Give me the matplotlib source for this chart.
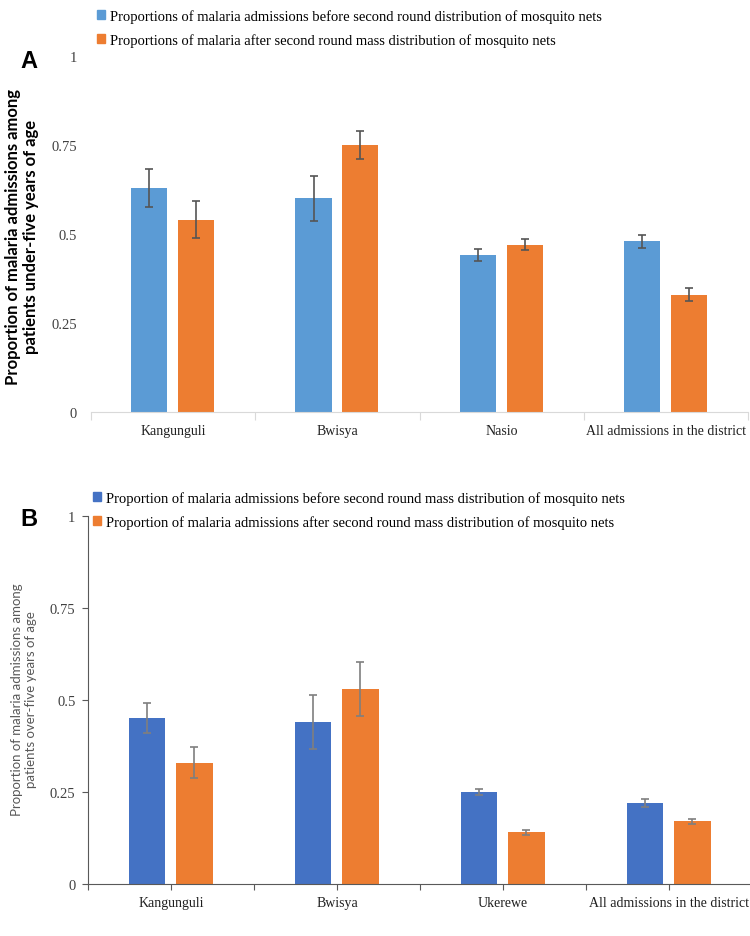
import numpy as np
import matplotlib
matplotlib.use("Agg")
import matplotlib.pyplot as plt
from matplotlib.patches import Patch

# Panel A data (under-five)
sites_a = ["Kangunguli", "Bwisya", "Nasio", "All admissions in the district"]
before_a = [0.63, 0.60, 0.44, 0.48]
before_a_err = [0.053, 0.064, 0.017, 0.018]
after_a = [0.54, 0.75, 0.47, 0.33]
after_a_err = [0.052, 0.038, 0.016, 0.017]
legend_a = [
    "Proportions of malaria admissions before second round distribution of mosquito nets",
    "Proportions of malaria after second round mass distribution of mosquito nets",
]
ylabel_a = "Proportion of malaria admissions among\npatients under-five years of age"

# Panel B data (over-five)
sites_b = ["Kangunguli", "Bwisya", "Ukerewe", "All admissions in the district"]
before_b = [0.45, 0.44, 0.25, 0.22]
before_b_err = [0.041, 0.074, 0.009, 0.011]
after_b = [0.33, 0.53, 0.14, 0.17]
after_b_err = [0.041, 0.074, 0.007, 0.007]
legend_b = [
    "Proportion of malaria admissions before second round mass distribution of mosquito nets",
    "Proportion of malaria admissions after second round mass distribution of mosquito nets",
]
ylabel_b = "Proportion of malaria admissions among\npatients over-five years of age"

yticks = [0, 0.25, 0.5, 0.75, 1]
ytick_labels = ["0", "0.25", "0.5", "0.75", "1"]

serif = "Liberation Serif"
sans = "Lato"
W, H = 750, 937

fig = plt.figure(figsize=(7.5, 9.37), dpi=100)


def fx(px):
    return px / W


def fy(py):
    return 1 - py / H


def draw_panel(ax, sites, before, before_err, after, after_err, c_before, c_after, ecolor):
    x = np.arange(len(sites))
    w = 0.22
    ekw = dict(ecolor=ecolor, capsize=3, elinewidth=1.2, capthick=1.2)
    ax.bar(x - 0.145, before, w, color=c_before, yerr=before_err, error_kw=ekw)
    ax.bar(x + 0.14, after, w, color=c_after, yerr=after_err, error_kw=ekw)
    ax.set_xlim(-0.5, len(sites) - 0.5)
    ax.set_ylim(0, 1)
    ax.set_yticks(yticks)
    ax.set_yticklabels(ytick_labels)
    for lbl in ax.get_yticklabels():
        lbl.set_fontfamily(serif)
        lbl.set_fontsize(10.5)
        lbl.set_color("#404040")
    # category names centred under each pair
    for xi, name in zip(x, sites):
        ax.text(xi, -0.033, name, transform=ax.get_xaxis_transform(),
                ha="center", va="top", fontfamily=serif, fontsize=10, color="#202020")
    ax.set_xticklabels([])
    ax.spines["top"].set_visible(False)
    ax.spines["right"].set_visible(False)
    return x


# ---- Panel A ----
ax_a = fig.add_axes([fx(91), fy(413), fx(748) - fx(91), fy(57) - fy(413)])
draw_panel(ax_a, sites_a, before_a, before_a_err, after_a, after_a_err,
           "#5B9BD5", "#ED7D31", "#555555")
ax_a.set_xticks(np.arange(len(sites_a) + 1) - 0.5)
ax_a.set_xticklabels([])
ax_a.spines["left"].set_visible(False)
ax_a.spines["bottom"].set_color("#D9D9D9")
ax_a.tick_params(axis="y", length=0, pad=10)
ax_a.tick_params(axis="x", length=6, color="#D9D9D9")

fig.text(fx(22), fy(237), ylabel_a, rotation=90, ha="center", va="center",
         multialignment="center", fontfamily=sans, fontweight="bold", fontsize=12,
         linespacing=1.1)
fig.text(fx(20), fy(62), "A", fontfamily="Liberation Sans", fontweight="bold",
         fontsize=17, va="center", ha="left")
handles_a = [Patch(color="#5B9BD5"), Patch(color="#ED7D31")]
fig.legend(handles_a, legend_a, loc="center left", bbox_to_anchor=(fx(90), fy(29)),
           frameon=False, prop={"family": serif, "size": 10.5}, handlelength=0.55,
           handleheight=0.55, handletextpad=0.3, labelspacing=0.7, borderpad=0)

# ---- Panel B ----
ax_b = fig.add_axes([fx(88), fy(885), fx(752) - fx(88), fy(517) - fy(885)])
draw_panel(ax_b, sites_b, before_b, before_b_err, after_b, after_b_err,
           "#4472C4", "#ED7D31", "#7F7F7F")
ax_b.set_xticks(np.arange(len(sites_b) * 2 + 1) * 0.5 - 0.5)
ax_b.set_xticklabels([])
ax_b.spines["left"].set_color("#595959")
ax_b.spines["bottom"].set_color("#595959")
ax_b.tick_params(axis="y", length=4, color="#595959", pad=5)
ax_b.tick_params(axis="x", length=4, color="#595959")

fig.text(fx(24), fy(700), ylabel_b, rotation=90, ha="center", va="center",
         multialignment="center", fontfamily=sans, fontsize=9.5, color="#595959")
fig.text(fx(20), fy(520), "B", fontfamily="Liberation Sans", fontweight="bold",
         fontsize=17, va="center", ha="left")
handles_b = [Patch(color="#4472C4"), Patch(color="#ED7D31")]
fig.legend(handles_b, legend_b, loc="center left", bbox_to_anchor=(fx(86), fy(511)),
           frameon=False, prop={"family": serif, "size": 10.5}, handlelength=0.55,
           handleheight=0.55, handletextpad=0.3, labelspacing=0.7, borderpad=0)

fig.savefig("out.png", dpi=100)
